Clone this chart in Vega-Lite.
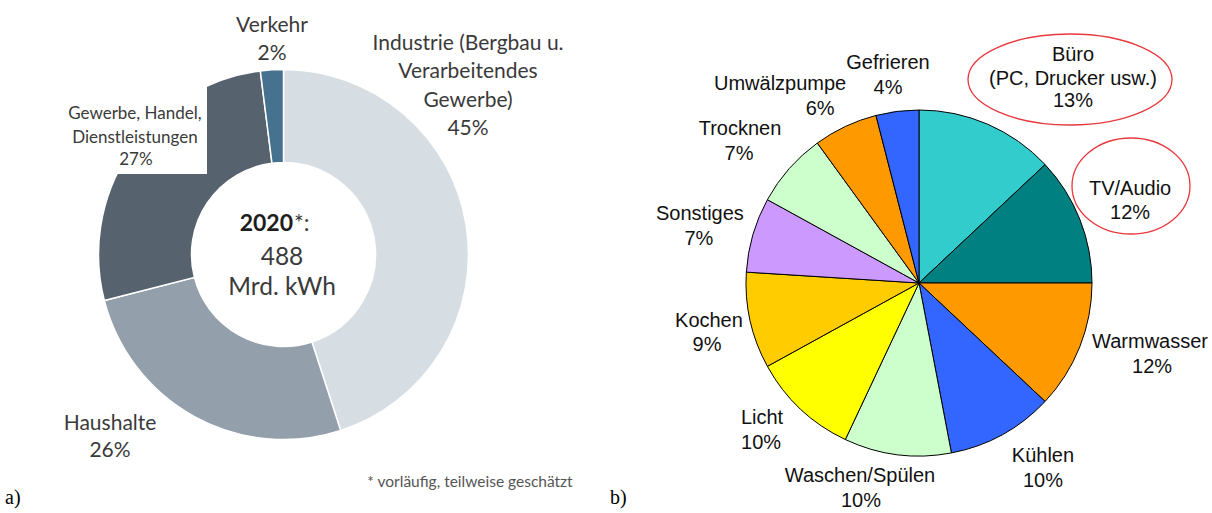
{
  "$schema": "https://vega.github.io/schema/vega-lite/v6.json",
  "background": "white",
  "padding": 0,
  "autosize": {"type": "pad"},
  "config": {"view": {"stroke": null}},
  "bounds": "flush",
  "spacing": 59,
  "resolve": {"scale": {"color": "independent", "theta": "independent"}},
  "hconcat": [
    {
      "width": 567,
      "height": 507,
      "data": {"values": [
        {"c": "Industrie", "name": "Industrie (Bergbau u.|Verarbeitendes|Gewerbe)", "v": 45, "o": 1},
        {"c": "Haushalte", "name": "Haushalte", "v": 26, "o": 2},
        {"c": "Gewerbe", "name": "Gewerbe, Handel,|Dienstleistungen", "v": 27, "o": 3},
        {"c": "Verkehr", "name": "Verkehr", "v": 2, "o": 4}
      ]},
      "layer": [
        {
          "mark": {"type": "arc", "outerRadius": 185, "innerRadius": 92, "stroke": "#ffffff", "strokeWidth": 1.5},
          "encoding": {
            "theta": {"field": "v", "type": "quantitative", "stack": true},
            "order": {"field": "o", "type": "quantitative"},
            "color": {"field": "c", "type": "nominal", "legend": null,
              "scale": {"domain": ["Industrie", "Haushalte", "Gewerbe", "Verkehr"], "range": ["#d6dde3", "#939fab", "#56636f", "#46718f"]}}
          }
        },
        {
          "data": {"values": [{"k": 1}]},
          "mark": {"type": "point", "shape": "M-2.5,-2.0 L-0.765,-2.0 L-0.765,-0.805 L-2.5,-0.805 Z", "size": 40000, "filled": true, "fill": "#ffffff", "strokeWidth": 0, "opacity": 1},
          "encoding": {}
        },
        {
          "mark": {"type": "text", "radius": 210, "font": "Lato", "fill": "#3a3a3a", "align": "center", "baseline": "middle", "lineBreak": "|",
            "fontSize": {"expr": "datum.o == 3 ? 17 : 21"},
            "lineHeight": {"expr": "datum.o == 3 ? 24 : 28.5"},
            "dx": {"expr": "[-22.9, -72.3, 25.1, 1.7][datum.o - 1]"},
            "dy": {"expr": "[-177.7, -14.5, -22.5, -18.9][datum.o - 1]"}},
          "encoding": {
            "theta": {"field": "v", "type": "quantitative", "stack": true},
            "order": {"field": "o", "type": "quantitative"},
            "detail": {"field": "c", "type": "nominal"},
            "text": {"field": "name", "type": "nominal"}
          }
        },
        {
          "transform": [{"calculate": "datum.v + '%'", "as": "pct"}],
          "mark": {"type": "text", "radius": 210, "font": "Lato", "fill": "#3a3a3a", "align": "center", "baseline": "middle",
            "fontSize": {"expr": "datum.o == 3 ? 17 : 21"},
            "dx": {"expr": "[-22.9, -72.3, 26.1, 1.7][datum.o - 1]"},
            "dy": {"expr": "[-92.7, 12.5, 23.5, 9.1][datum.o - 1]"}},
          "encoding": {
            "theta": {"field": "v", "type": "quantitative", "stack": true},
            "order": {"field": "o", "type": "quantitative"},
            "detail": {"field": "c", "type": "nominal"},
            "text": {"field": "pct", "type": "nominal"}
          }
        },
        {
          "data": {"values": [{"t": "2020"}]},
          "mark": {"type": "text", "font": "Lato", "fontSize": 23, "fontWeight": "bold", "fill": "#1e1e1e", "align": "right", "baseline": "middle", "dx": 9.5, "dy": -30.5},
          "encoding": {"text": {"field": "t", "type": "nominal"}}
        },
        {
          "data": {"values": [{"t": "*:"}]},
          "mark": {"type": "text", "font": "Lato", "fontSize": 23, "fill": "#3a3a3a", "align": "left", "baseline": "middle", "dx": 10.5, "dy": -30.5},
          "encoding": {"text": {"field": "t", "type": "nominal"}}
        },
        {
          "data": {"values": [{"t": "488|Mrd. kWh"}]},
          "mark": {"type": "text", "font": "Lato", "fontSize": 24.5, "fill": "#3a3a3a", "align": "center", "baseline": "middle", "lineBreak": "|", "lineHeight": 30, "dx": -1.5, "dy": 3.5},
          "encoding": {"text": {"field": "t", "type": "nominal"}}
        },
        {
          "data": {"values": [{"t": "* vorläufig, teilweise geschätzt"}]},
          "mark": {"type": "text", "font": "Lato", "fontSize": 15.5, "fill": "#555555", "align": "center", "baseline": "middle", "dx": 186.5, "dy": 227.5},
          "encoding": {"text": {"field": "t", "type": "nominal"}}
        },
        {
          "data": {"values": [{"t": "a)"}]},
          "mark": {"type": "text", "font": "Liberation Serif", "fontSize": 20, "fill": "#000000", "align": "left", "baseline": "middle", "dx": -278.5, "dy": 243.5},
          "encoding": {"text": {"field": "t", "type": "nominal"}}
        }
      ]
    },
    {
      "bounds": "flush",
      "spacing": 50,
      "vconcat": [
        {
          "width": 586,
          "height": 1,
          "data": {"values": [{"k": 1}]},
          "mark": {"type": "rule", "opacity": 0},
          "encoding": {}
        },
        {
          "width": 586,
          "height": 462,
          "data": {"values": [
            {"c": "Büro", "name": "Büro|(PC, Drucker usw.)", "v": 13, "o": 1},
            {"c": "TV/Audio", "name": "TV/Audio", "v": 12, "o": 2},
            {"c": "Warmwasser", "name": "Warmwasser", "v": 12, "o": 3},
            {"c": "Kühlen", "name": "Kühlen", "v": 10, "o": 4},
            {"c": "Waschen/Spülen", "name": "Waschen/Spülen", "v": 10, "o": 5},
            {"c": "Licht", "name": "Licht", "v": 10, "o": 6},
            {"c": "Kochen", "name": "Kochen", "v": 9, "o": 7},
            {"c": "Sonstiges", "name": "Sonstiges", "v": 7, "o": 8},
            {"c": "Trocknen", "name": "Trocknen", "v": 7, "o": 9},
            {"c": "Umwälzpumpe", "name": "Umwälzpumpe", "v": 6, "o": 10},
            {"c": "Gefrieren", "name": "Gefrieren", "v": 4, "o": 11}
          ]},
          "layer": [
            {
              "mark": {"type": "arc", "outerRadius": 173, "stroke": "#000000", "strokeWidth": 1},
              "encoding": {
                "theta": {"field": "v", "type": "quantitative", "stack": true},
                "order": {"field": "o", "type": "quantitative"},
                "color": {"field": "c", "type": "nominal", "legend": null,
                  "scale": {"domain": ["Büro", "TV/Audio", "Warmwasser", "Kühlen", "Waschen/Spülen", "Licht", "Kochen", "Sonstiges", "Trocknen", "Umwälzpumpe", "Gefrieren"],
                    "range": ["#33cccc", "#008080", "#ff9900", "#3366ff", "#ccffcc", "#ffff00", "#ffcc00", "#cc99ff", "#ccffcc", "#ff9900", "#3366ff"]}}
              }
            },
            {
              "mark": {"type": "text", "radius": 210, "font": "Liberation Sans", "fontSize": 20, "fill": "#111111", "align": "center", "baseline": "middle", "lineBreak": "|", "lineHeight": 24,
                "dx": {"expr": "[70.6, 15.8, 35.8, 22.8, -32.7, -13.2, -5.1, -17.4, -21.5, -49.5, -4.7][datum.o - 1]"},
                "dy": {"expr": "[-35.7, -16.7, -18.3, -11, -15.3, -18.1, -7.8, -10.4, -15.2, -8.9, -11.7][datum.o - 1]"}},
              "encoding": {
                "theta": {"field": "v", "type": "quantitative", "stack": true},
                "order": {"field": "o", "type": "quantitative"},
                "detail": {"field": "c", "type": "nominal"},
                "text": {"field": "name", "type": "nominal"}
              }
            },
            {
              "transform": [{"calculate": "datum.v + '%'", "as": "pct"}],
              "mark": {"type": "text", "radius": 210, "font": "Liberation Sans", "fontSize": 20, "fill": "#111111", "align": "center", "baseline": "middle",
                "dx": {"expr": "[70.6, 15.8, 37.8, 22.8, -31.7, -14.2, -7.1, -18.4, -22.5, -9.5, -4.7][datum.o - 1]"},
                "dy": {"expr": "[10.8, 7.3, 6.7, 14, 9.7, 6.9, 16.2, 14.6, 9.8, 16.1, 13.3][datum.o - 1]"}},
              "encoding": {
                "theta": {"field": "v", "type": "quantitative", "stack": true},
                "order": {"field": "o", "type": "quantitative"},
                "detail": {"field": "c", "type": "nominal"},
                "text": {"field": "pct", "type": "nominal"}
              }
            },
            {
              "data": {"values": [{"k": 1}]},
              "mark": {"type": "point", "shape": "M0.49,-2.035 A1.02,0.455 0 1,0 2.53,-2.035 A1.02,0.455 0 1,0 0.49,-2.035 Z", "size": 40000, "filled": false, "stroke": "#e8383d", "strokeWidth": 1.3, "opacity": 1},
              "encoding": {}
            },
            {
              "data": {"values": [{"k": 1}]},
              "mark": {"type": "point", "shape": "M1.53,-0.97 A0.59,0.48 0 1,0 2.71,-0.97 A0.59,0.48 0 1,0 1.53,-0.97 Z", "size": 40000, "filled": false, "stroke": "#e8383d", "strokeWidth": 1.3, "opacity": 1},
              "encoding": {}
            },
            {
              "data": {"values": [{"t": "b)"}]},
              "mark": {"type": "text", "font": "Liberation Serif", "fontSize": 20, "fill": "#000000", "align": "left", "baseline": "middle", "dx": -309, "dy": 215},
              "encoding": {"text": {"field": "t", "type": "nominal"}}
            }
          ]
        }
      ]
    }
  ]
}
